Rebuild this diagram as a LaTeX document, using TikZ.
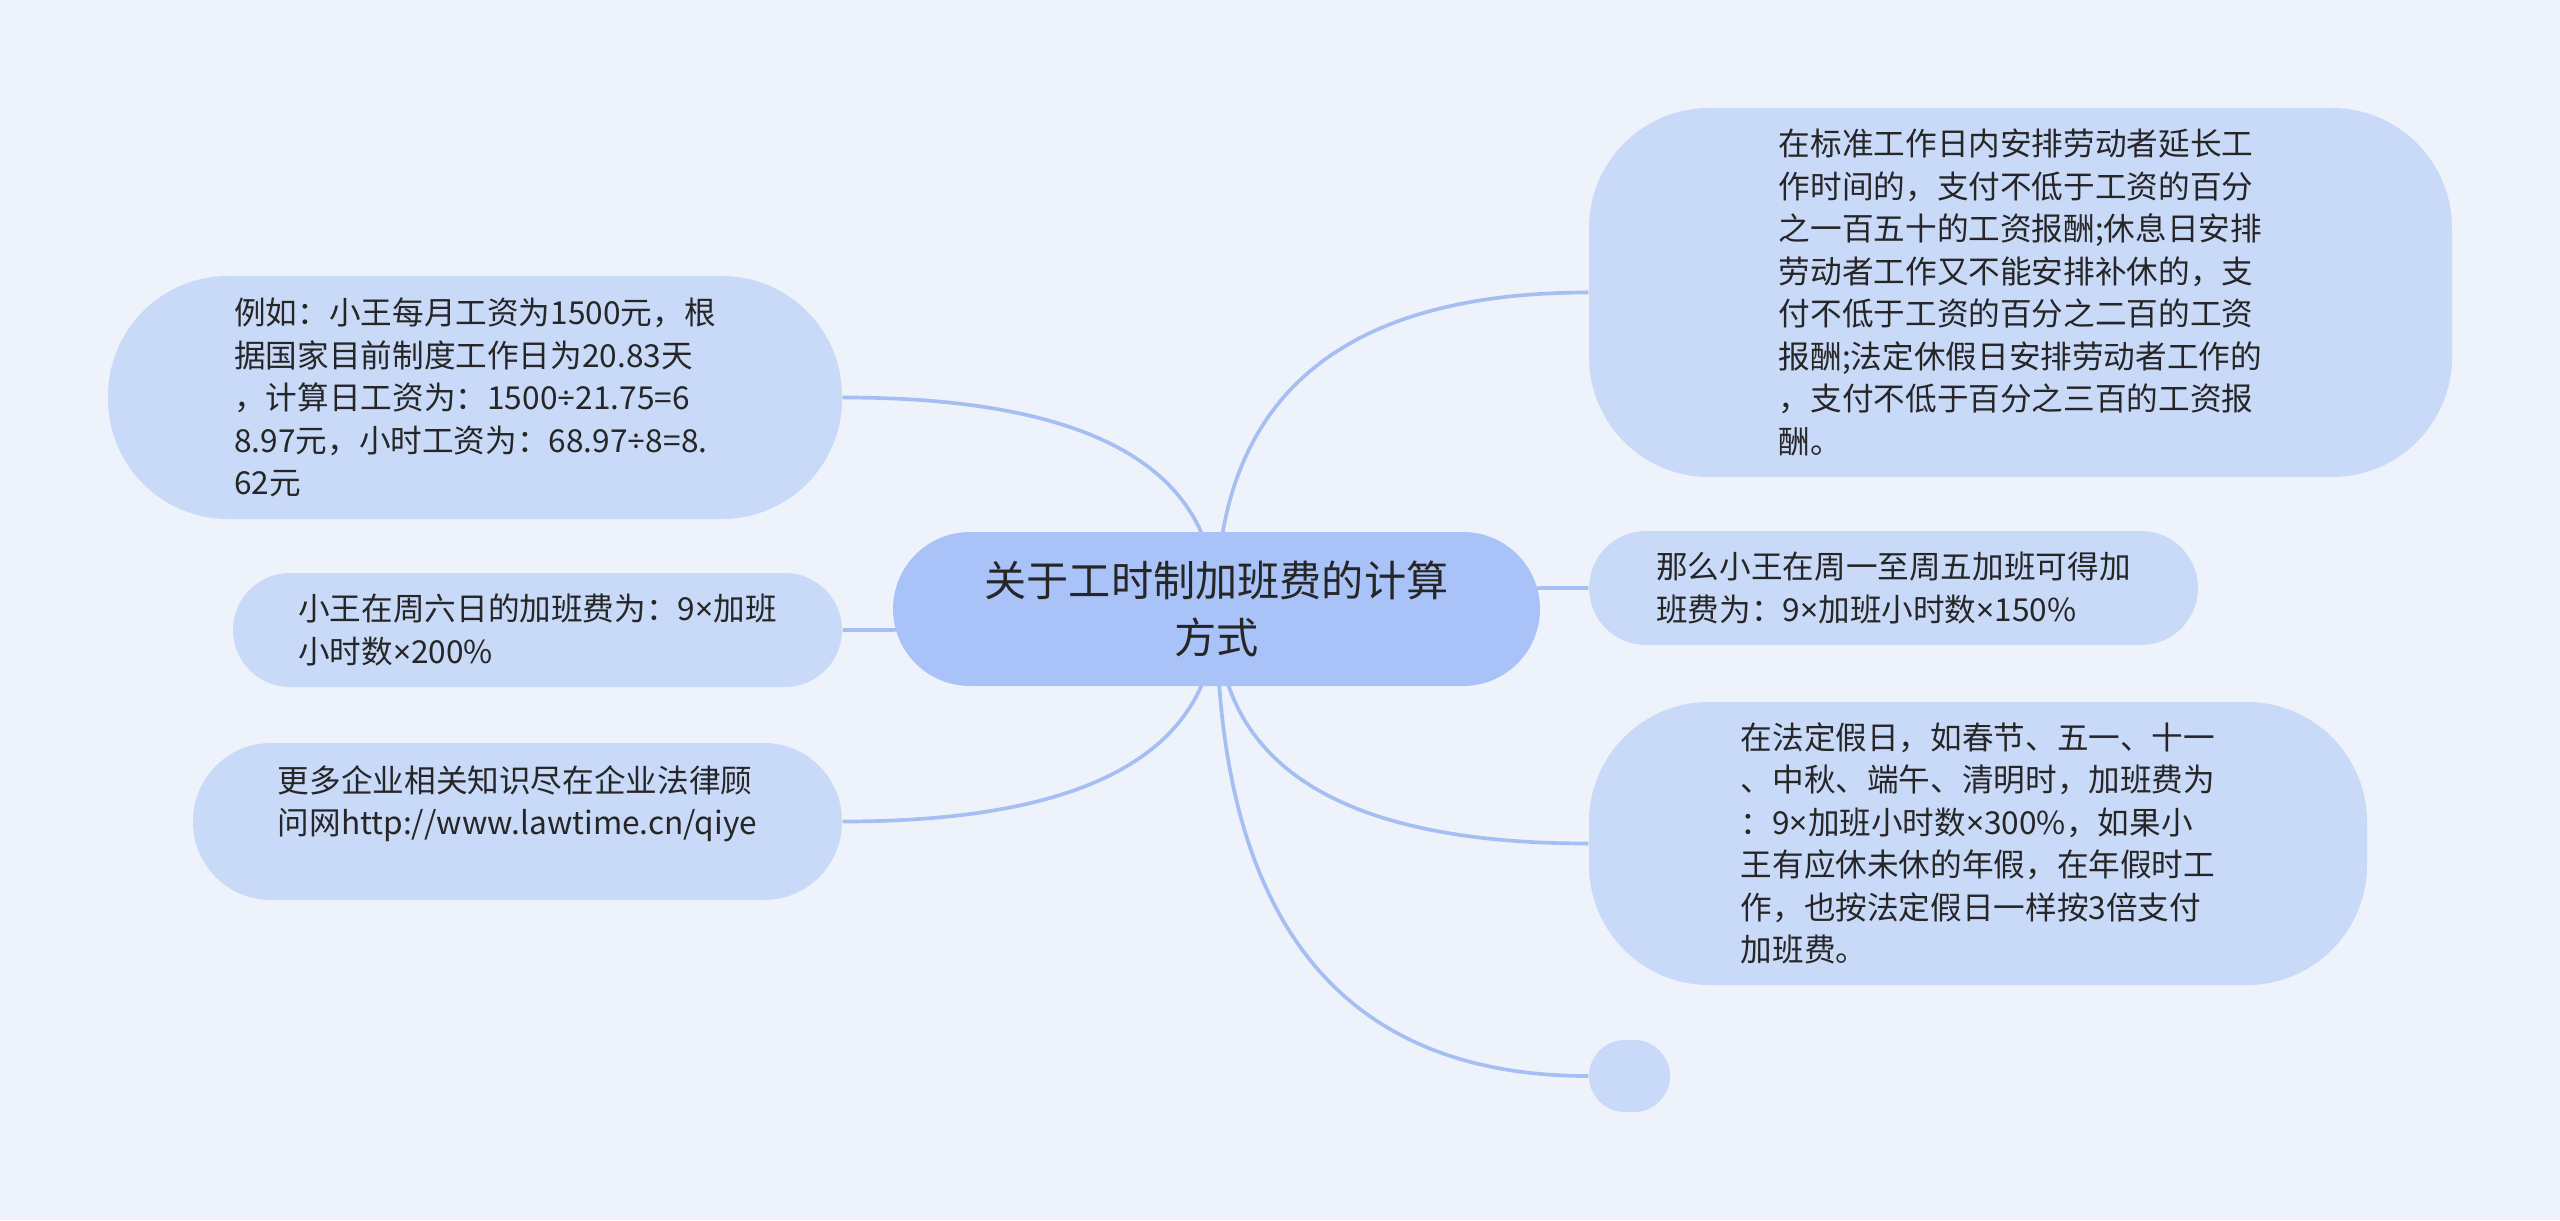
\documentclass[tikz,border=0pt]{standalone}
\usepackage{fontspec}
\setmainfont{Noto Sans CJK SC}
\newfontfamily\latinfont{Noto Sans}
\newcommand{\tms}{{\latinfont ×}}
\newcommand{\dvd}{{\latinfont ÷}}
\usetikzlibrary{calc}
\definecolor{bgcol}{HTML}{EEF3FB}
\definecolor{rootcol}{HTML}{A9C2F8}
\definecolor{kidcol}{HTML}{C9D9F8}
\definecolor{linkcol}{HTML}{A6BFF2}
\definecolor{txtcol}{HTML}{262626}
\pgfdeclarelayer{bg}
\pgfdeclarelayer{links}
\pgfsetlayers{bg,links,main}
\tikzset{
  root/.style={fill=rootcol,text=txtcol,align=center,inner sep=0pt,font=\fontsize{12pt}{16.2pt}\selectfont},
  kid/.style={fill=kidcol,text=txtcol,align=left,inner sep=0pt,font=\fontsize{9pt}{12.1pt}\selectfont},
  link/.style={draw=linkcol,line width=1.05pt}
}
\begin{document}
\begin{tikzpicture}
\begin{pgfonlayer}{bg}
\fill[bgcol] (0,0) rectangle (25.6,12.2);
\end{pgfonlayer}
\node[root,minimum width=6.47cm,minimum height=1.54cm,rounded corners=0.77cm] (root) at (12.165,6.11) {关于工时制加班费的计算\\方式};
\node[kid,minimum width=7.34cm,minimum height=2.43cm,rounded corners=1.2cm] (lA) at (4.75,8.225) {例如：小王每月工资为1500元，根\\据国家目前制度工作日为20.83天\\，计算日工资为：1500\dvd{}21.75=6\\8.97元，小时工资为：68.97\dvd{}8=8.\\62元};
\node[kid,minimum width=6.09cm,minimum height=1.14cm,rounded corners=0.57cm] (lB) at (5.375,5.9) {小王在周六日的加班费为：9\tms{}加班\\小时数\tms{}200\%};
\node[kid,minimum width=6.49cm,minimum height=1.57cm,rounded corners=0.78cm] (lC) at (5.175,3.985) {更多企业相关知识尽在企业法律顾\\问网http://www.lawtime.cn/qiye\\\mbox{}};
\node[kid,minimum width=8.63cm,minimum height=3.69cm,rounded corners=1.2cm] (rA) at (20.205,9.275) {在标准工作日内安排劳动者延长工\\作时间的，支付不低于工资的百分\\之一百五十的工资报酬;休息日安排\\劳动者工作又不能安排补休的，支\\付不低于工资的百分之二百的工资\\报酬;法定休假日安排劳动者工作的\\，支付不低于百分之三百的工资报\\酬。};
\node[kid,minimum width=6.09cm,minimum height=1.14cm,rounded corners=0.57cm] (rB) at (18.935,6.32) {那么小王在周一至周五加班可得加\\班费为：9\tms{}加班小时数\tms{}150\%};
\node[kid,minimum width=7.78cm,minimum height=2.83cm,rounded corners=1.2cm] (rC) at (19.78,3.765) {在法定假日，如春节、五一、十一\\、中秋、端午、清明时，加班费为\\：9\tms{}加班小时数\tms{}300\%，如果小\\王有应休未休的年假，在年假时工\\作，也按法定假日一样按3倍支付\\加班费。};
\node[kid,minimum width=0.81cm,minimum height=0.72cm,rounded corners=0.36cm] (rD) at (16.295,1.44) {};
\begin{pgfonlayer}{links}
\foreach \k/\a in {lA/east,lB/east,lC/east,rA/west,rB/west,rC/west,rD/west}{
  \coordinate (bend) at (root.center|-\k.\a);
  \draw[link] (root.center) .. controls ($(root.center)!2/3!(bend)$) and ($(\k.\a)!2/3!(bend)$) .. (\k.\a);
}
\end{pgfonlayer}
\end{tikzpicture}
\end{document}
